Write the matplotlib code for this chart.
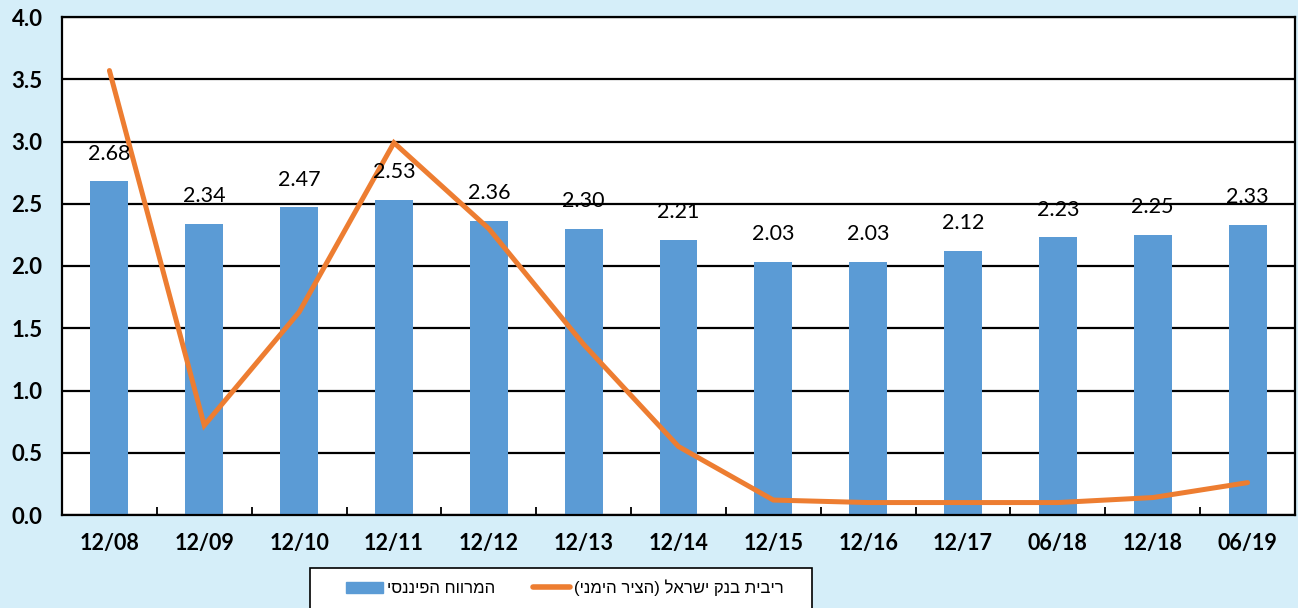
import matplotlib
matplotlib.use("Agg")
import matplotlib.pyplot as plt
import numpy as np
from matplotlib.lines import Line2D
from matplotlib.patches import Patch, Rectangle

categories = ["12/08", "12/09", "12/10", "12/11", "12/12", "12/13", "12/14",
              "12/15", "12/16", "12/17", "06/18", "12/18", "06/19"]
spread = [2.68, 2.34, 2.47, 2.53, 2.36, 2.30, 2.21, 2.03, 2.03, 2.12, 2.23, 2.25, 2.33]
boi_rate = [3.57, 0.72, 1.63, 2.99, 2.30, 1.37, 0.55, 0.12, 0.10, 0.10, 0.10, 0.14, 0.26]
yticks = [0.0, 0.5, 1.0, 1.5, 2.0, 2.5, 3.0, 3.5, 4.0]

# Hebrew labels (logical order) -> visual order for LTR renderer
label_spread = "המרווח הפיננסי"
label_rate = "ריבית בנק ישראל (הציר הימני)"

def visual(s):
    mirror = {"(": ")", ")": "("}
    return "".join(mirror.get(c, c) for c in reversed(s))

BG = "#D5EEF9"
BAR = "#5B9BD5"
LINE = "#ED7D31"
num_font = "Lato"
heb_font = ["Liberation Sans", "DejaVu Sans"]

W, H = 1298, 608
fig = plt.figure(figsize=(W/100, H/100), dpi=100, facecolor=BG)
ax = fig.add_axes([62/W, 1-515/H, (1295-62)/W, (515-17)/H])
ax.set_facecolor("white")

x = np.arange(len(categories))
ax.bar(x, spread, width=0.4, color=BAR, zorder=2)
ax.plot(x, boi_rate, color=LINE, lw=3.6, solid_capstyle="round",
        solid_joinstyle="miter", zorder=3)

for xi, v in zip(x, spread):
    ax.annotate(f"{v:.2f}", (xi, v), xytext=(0, 20), textcoords="offset points",
                ha="center", va="center", fontsize=15.5, family=num_font, color="black",
                zorder=4)

ax.set_xlim(-0.5, len(categories) - 0.5)
ax.set_ylim(0, 4.0)
ax.set_yticks(yticks)
ax.set_yticklabels([f"{t:.1f}" for t in yticks], family=num_font, fontsize=16,
                   fontweight="bold")
ax.yaxis.grid(True, color="black", lw=1.6, zorder=1)
ax.set_axisbelow(True)
ax.tick_params(axis="y", length=0, pad=14)

ax.set_xticks(x)
ax.set_xticklabels(categories, family=num_font, fontsize=15.5, fontweight="bold")
ax.tick_params(axis="x", which="major", length=0, pad=13)
ax.set_xticks(np.arange(0.5, len(categories) - 0.5, 1.0), minor=True)
ax.tick_params(axis="x", which="minor", direction="in", length=6, width=1.3, color="black")

for sp in ax.spines.values():
    sp.set_color("black")
    sp.set_linewidth(1.6)

# legend frame (extends past the bottom edge as in the reference)
fig.patches.append(Rectangle((310/W, 1-640/H), (812-310)/W, (640-568)/H,
                             transform=fig.transFigure, facecolor="white",
                             edgecolor="black", lw=1.2, zorder=5))

handles = [Patch(facecolor=BAR, edgecolor=BAR),
           Line2D([0], [0], color=LINE, lw=4, solid_capstyle="round")]
leg = fig.legend(handles, [visual(label_spread), visual(label_rate)],
                 loc="center", bbox_to_anchor=(565/W, 1-588/H),
                 ncol=2, frameon=False, prop={"family": heb_font, "size": 12},
                 handlelength=2.2, handleheight=0.7, columnspacing=2.3,
                 borderpad=0, borderaxespad=0, handletextpad=0.25)
leg.set_zorder(6)

fig.savefig("out.png", dpi=100, facecolor=BG)
